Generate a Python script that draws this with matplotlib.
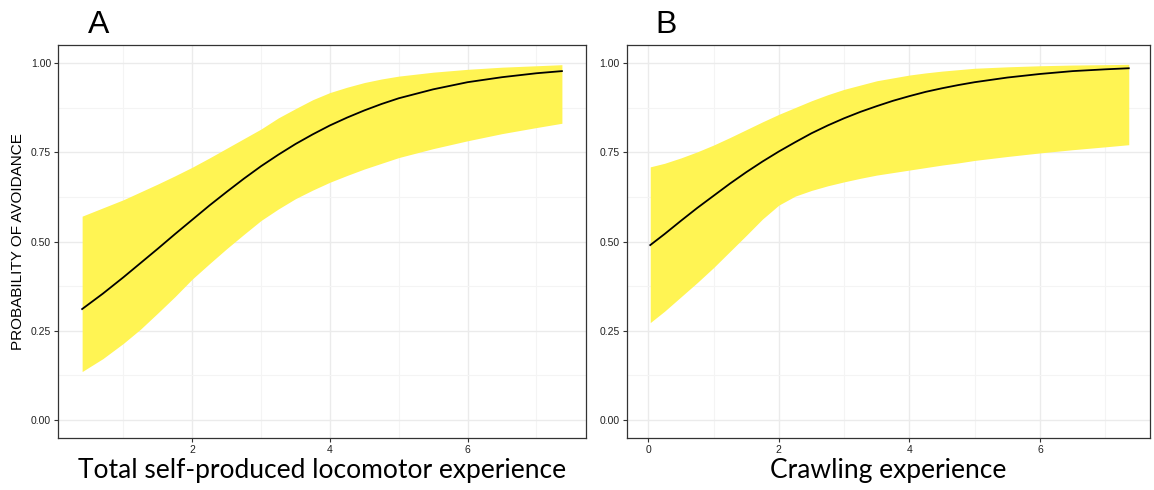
import numpy as np
import matplotlib.pyplot as plt
from matplotlib.ticker import MultipleLocator

# ------------------------------
# data
# ------------------------------
xa = [0.40, 0.7, 1.0, 1.25, 1.5, 1.75, 2.0, 2.25, 2.5, 2.75, 3.0, 3.25, 3.5, 3.75,
      4.0, 4.25, 4.5, 4.75, 5.0, 5.5, 6.0, 6.5, 7.0, 7.37]
mean_a = [0.311, 0.354, 0.400, 0.440, 0.480, 0.521, 0.561, 0.601, 0.639, 0.676,
          0.711, 0.743, 0.773, 0.800, 0.825, 0.847, 0.867, 0.885, 0.901, 0.926,
          0.946, 0.960, 0.971, 0.977]
upper_a = [0.571, 0.594, 0.617, 0.639, 0.661, 0.684, 0.708, 0.734, 0.761, 0.788,
           0.815, 0.846, 0.872, 0.897, 0.917, 0.932, 0.945, 0.955, 0.963, 0.974,
           0.982, 0.988, 0.992, 0.995]
lower_a = [0.136, 0.172, 0.215, 0.255, 0.300, 0.346, 0.395, 0.438, 0.480, 0.520,
           0.559, 0.591, 0.620, 0.644, 0.666, 0.685, 0.703, 0.719, 0.735, 0.760,
           0.782, 0.802, 0.819, 0.831]

xb = [0.03, 0.25, 0.5, 0.75, 1.0, 1.25, 1.5, 1.75, 2.0, 2.25, 2.5, 2.75, 3.0, 3.25,
      3.5, 3.75, 4.0, 4.25, 4.5, 4.75, 5.0, 5.5, 6.0, 6.5, 7.0, 7.36]
mean_b = [0.490, 0.521, 0.558, 0.594, 0.628, 0.662, 0.694, 0.724, 0.752, 0.778,
          0.803, 0.825, 0.845, 0.863, 0.879, 0.894, 0.907, 0.919, 0.929, 0.938,
          0.946, 0.959, 0.969, 0.977, 0.982, 0.985]
upper_b = [0.709, 0.719, 0.734, 0.751, 0.770, 0.791, 0.813, 0.835, 0.856, 0.875,
           0.894, 0.911, 0.926, 0.938, 0.950, 0.958, 0.966, 0.972, 0.977, 0.981,
           0.985, 0.989, 0.992, 0.994, 0.995, 0.996]
lower_b = [0.273, 0.305, 0.345, 0.385, 0.427, 0.472, 0.517, 0.563, 0.602, 0.627,
           0.643, 0.656, 0.667, 0.677, 0.686, 0.693, 0.700, 0.707, 0.714, 0.720,
           0.727, 0.738, 0.748, 0.757, 0.765, 0.771]

panel_letters = ['A', 'B']
x_titles = ['Total self-produced locomotor experience', 'Crawling experience']
y_title = 'PROBABILITY OF AVOIDANCE'
y_ticks = [0.00, 0.25, 0.50, 0.75, 1.00]

band_color = '#FFF453'
grid_major = '#EBEBEB'
grid_minor = '#F4F4F4'
sans = ['Liberation Sans', 'DejaVu Sans']

# ------------------------------
# figure
# ------------------------------
fig = plt.figure(figsize=(11.54, 4.90), dpi=100)
ax_a = fig.add_axes([0.0503, 0.1061, 0.4575, 0.802])
ax_b = fig.add_axes([0.5431, 0.1061, 0.4537, 0.802])

panels = [
    (ax_a, xa, mean_a, lower_a, upper_a, [2, 4, 6], (0.05, 7.72), 0.057),
    (ax_b, xb, mean_b, lower_b, upper_b, [0, 2, 4, 6], (-0.33, 7.69), 0.055),
]

for i, (ax, x, m, lo, hi, xt, xl, letter_x) in enumerate(panels):
    ax.fill_between(x, lo, hi, color=band_color, lw=0, zorder=2)
    ax.plot(x, m, color='black', lw=1.3, zorder=3)

    ax.set_xlim(*xl)
    ax.set_ylim(-0.05, 1.05)
    ax.set_xticks(xt)
    ax.set_xticklabels([str(v) for v in xt])
    ax.set_yticks(y_ticks)
    ax.set_yticklabels(['%.2f' % v for v in y_ticks])
    ax.xaxis.set_minor_locator(MultipleLocator(1))
    ax.yaxis.set_minor_locator(MultipleLocator(0.125))

    ax.grid(which='major', color=grid_major, lw=1.0, zorder=0)
    ax.grid(which='minor', color=grid_minor, lw=0.8, zorder=0)
    ax.set_axisbelow(True)

    ax.tick_params(which='major', length=3, width=0.8, color='#333333',
                   labelsize=7.5, pad=2, labelcolor='#222222')
    ax.tick_params(which='minor', length=0)
    for lab in ax.get_xticklabels() + ax.get_yticklabels():
        lab.set_family(sans)

    for sp in ax.spines.values():
        sp.set_color('#333333')
        sp.set_linewidth(0.9)

    ax.set_xlabel(x_titles[i], fontsize=19, family=['Lato', 'DejaVu Sans'],
                  labelpad=2)
    ax.text(letter_x, 1.0305, panel_letters[i], transform=ax.transAxes,
            fontsize=23, family=sans, va='baseline', ha='left')

ax_a.set_ylabel(y_title, fontsize=11, family=sans, labelpad=4)

fig.savefig('out.png', dpi=100)
